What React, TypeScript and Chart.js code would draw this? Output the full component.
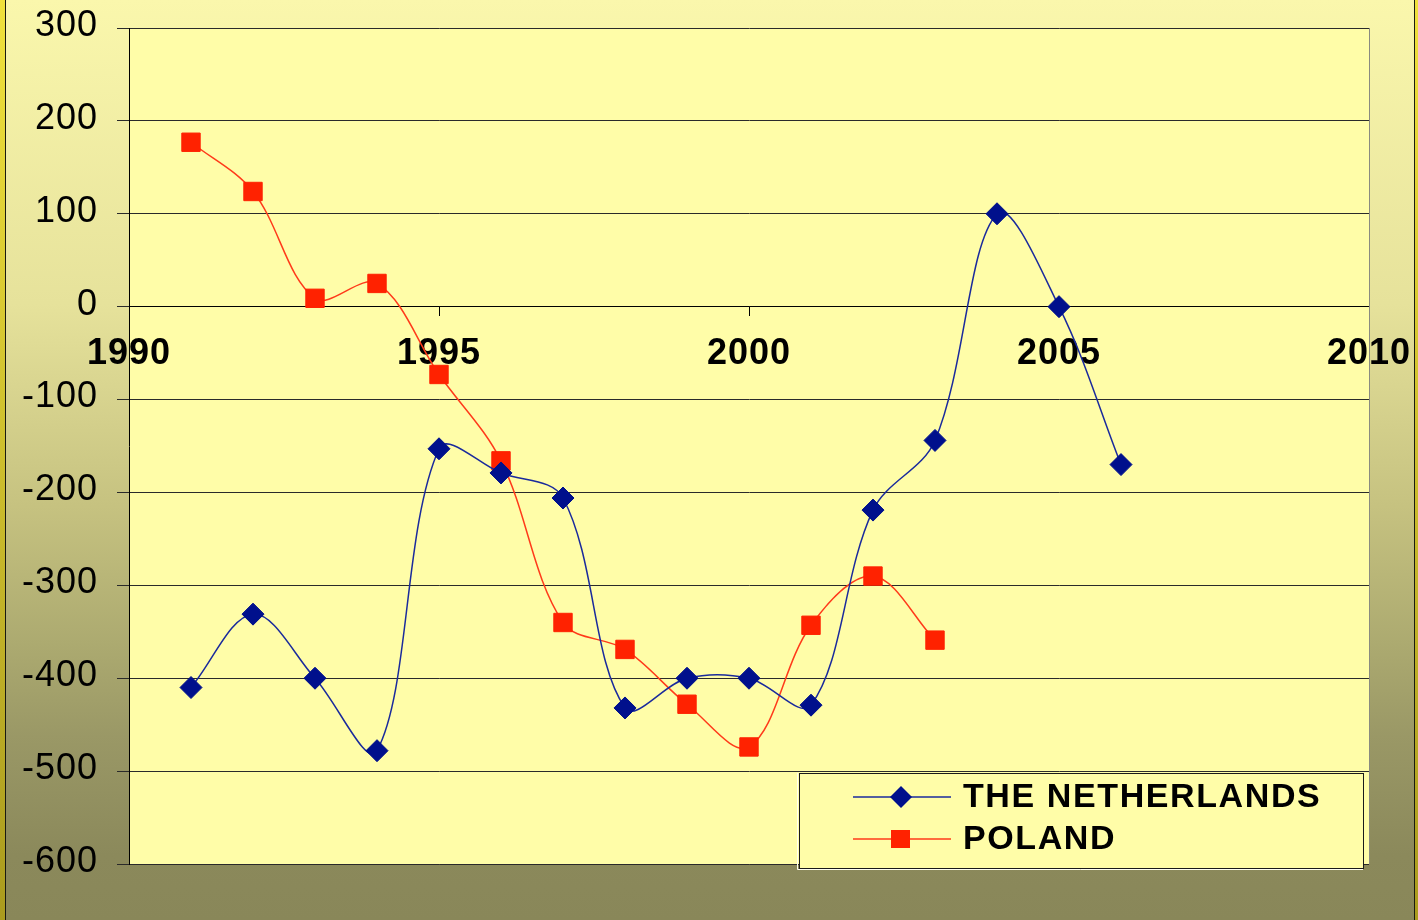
import React, { useEffect, useRef } from "react";
import { Chart, registerables } from "chart.js";

Chart.register(...registerables);

// ---- data ----
const netherlandsYears = [1991, 1992, 1993, 1994, 1995, 1996, 1997, 1998, 1999, 2000, 2001, 2002, 2003, 2004, 2005, 2006];
const netherlandsValues = [-410, -331, -400, -478, -153, -179, -206, -432, -400, -400, -429, -219, -144, 100, 0, -170];
const polandYears = [1991, 1992, 1993, 1994, 1995, 1996, 1997, 1998, 1999, 2000, 2001, 2002, 2003];
const polandValues = [177, 124, 9, 25, -73, -166, -340, -369, -428, -474, -343, -290, -359];
const seriesLabels = ["THE NETHERLANDS", "POLAND"];
const yMin = -600;
const yMax = 300;
const yStep = 100;
const xMin = 1990;
const xMax = 2010;
const xStep = 5;

const FONT = '"Liberation Sans", Arial, sans-serif';

const backgroundPlugin = {
  id: "bgPlugin",
  beforeDraw(chart: any) {
    const ctx = chart.ctx as CanvasRenderingContext2D;
    const { width, height, chartArea } = chart;
    ctx.save();
    const g = ctx.createLinearGradient(0, 0, 0, height);
    g.addColorStop(0, "rgb(250,247,172)");
    g.addColorStop(0.33, "rgb(230,226,155)");
    g.addColorStop(0.55, "rgb(198,194,128)");
    g.addColorStop(0.7, "rgb(172,170,112)");
    g.addColorStop(0.8, "rgb(154,152,102)");
    g.addColorStop(0.93, "rgb(139,137,91)");
    g.addColorStop(1, "rgb(137,135,89)");
    ctx.fillStyle = g;
    ctx.fillRect(0, 0, width, height);
    // edge bars
    const eg = ctx.createLinearGradient(0, 0, 0, height);
    eg.addColorStop(0, "rgb(240,225,60)");
    eg.addColorStop(1, "rgb(170,155,30)");
    ctx.fillStyle = eg;
    ctx.fillRect(0, 0, 5, height);
    ctx.fillRect(width - 3, 0, 3, height);
    ctx.fillStyle = "#1a1a10";
    ctx.fillRect(5, 0, 1, height);
    ctx.fillRect(width - 4, 0, 1, height);
    // plot area
    ctx.fillStyle = "#FFFDA8";
    ctx.fillRect(chartArea.left, chartArea.top, chartArea.right - chartArea.left, chartArea.bottom - chartArea.top);
    ctx.restore();
    (ctx as any).letterSpacing = "1px";
  },
  beforeDatasetsDraw(chart: any) {
    const ctx = chart.ctx as CanvasRenderingContext2D;
    (ctx as any).letterSpacing = "0px";
    const { chartArea } = chart;
    ctx.save();
    ctx.strokeStyle = "#8a8a80";
    ctx.lineWidth = 1;
    ctx.beginPath();
    ctx.moveTo(Math.round(chartArea.right) + 0.5, chartArea.top);
    ctx.lineTo(Math.round(chartArea.right) + 0.5, chartArea.bottom);
    ctx.stroke();
    ctx.restore();
  },
  afterDraw(chart: any) {
    const ctx = chart.ctx as CanvasRenderingContext2D;
    (ctx as any).letterSpacing = "0px";
    const bx = 799, by = 773, bw = 564, bh = 95;
    ctx.save();
    ctx.fillStyle = "#FFFDA8";
    ctx.fillRect(bx, by, bw, bh);
    ctx.strokeStyle = "#fffff0";
    ctx.lineWidth = 1;
    ctx.beginPath();
    ctx.moveTo(bx - 1.5, by);
    ctx.lineTo(bx - 1.5, by + bh + 1.5);
    ctx.lineTo(bx + bw, by + bh + 1.5);
    ctx.stroke();
    ctx.strokeStyle = "#1a1a1a";
    ctx.strokeRect(bx + 0.5, by + 0.5, bw, bh);
    const rows = [797, 839];
    chart.data.datasets.forEach((ds: any, i: number) => {
      const y = rows[i];
      ctx.strokeStyle = ds.borderColor;
      ctx.lineWidth = 1.5;
      ctx.beginPath();
      ctx.moveTo(853, y);
      ctx.lineTo(951, y);
      ctx.stroke();
      ctx.fillStyle = ds.pointBackgroundColor;
      if (ds.pointStyle === "rectRot") {
        ctx.beginPath();
        ctx.moveTo(901, y - 11);
        ctx.lineTo(912, y);
        ctx.lineTo(901, y + 11);
        ctx.lineTo(890, y);
        ctx.closePath();
        ctx.fill();
      } else {
        ctx.fillRect(891, y - 9, 19, 18);
      }
      ctx.fillStyle = "#000";
      ctx.font = `bold 34px ${FONT}`;
      ctx.textBaseline = "middle";
      ctx.textAlign = "left";
      (ctx as any).letterSpacing = "1.6px";
      ctx.fillText(ds.label, 963, y + 1);
      (ctx as any).letterSpacing = "0px";
    });
    ctx.restore();
  },
};

export default function App() {
  const canvasRef = useRef<HTMLCanvasElement | null>(null);

  useEffect(() => {
    document.body.style.margin = "0";
    const canvas = canvasRef.current;
    if (!canvas) return;
    Chart.defaults.font.family = FONT;
    const chart = new Chart(canvas, {
      type: "line",
      data: {
        datasets: [
          {
            label: seriesLabels[0],
            data: netherlandsYears.map((x, i) => ({ x, y: netherlandsValues[i] })),
            borderColor: "#1A2A9C",
            borderWidth: 1.5,
            pointStyle: "rectRot",
            pointRadius: 11,
            pointBackgroundColor: "#00108C",
            pointBorderColor: "#00108C",
            pointBorderWidth: 1,
            tension: 0.35,
            fill: false,
          },
          {
            label: seriesLabels[1],
            data: polandYears.map((x, i) => ({ x, y: polandValues[i] })),
            borderColor: "#FF3A1A",
            borderWidth: 1.5,
            pointStyle: "rect",
            pointRadius: 13,
            pointBackgroundColor: "#FF2200",
            pointBorderColor: "#FF2200",
            pointBorderWidth: 1,
            tension: 0.35,
            fill: false,
          },
        ],
      },
      options: {
        animation: false,
        responsive: false,
        devicePixelRatio: 1,
        layout: { padding: { left: 0, top: 28, right: 49, bottom: 56 } },
        plugins: {
          legend: { display: false },
          tooltip: { enabled: false },
        },
        scales: {
          x: {
            type: "linear",
            min: xMin,
            max: xMax,
            position: { y: 0 } as any,
            grid: { drawOnChartArea: false, drawTicks: true, tickLength: 9, color: "#000" },
            border: { display: true, color: "#000", width: 1 },
            ticks: {
              stepSize: xStep,
              padding: 17,
              color: "#000",
              font: { size: 36, weight: "bold", family: FONT },
              callback: (v: any) => String(v),
              maxRotation: 0,
              autoSkip: false,
            },
            afterFit: (scale: any) => {
              scale.paddingLeft = 0;
              scale.paddingRight = 0;
              scale.paddingTop = 0;
              scale.paddingBottom = 0;
            },
          },
          y: {
            type: "linear",
            min: yMin,
            max: yMax,
            position: "left",
            grid: { color: "#2a2a2a", lineWidth: 1, tickLength: 12 },
            border: { display: true, color: "#000", width: 1 },
            ticks: {
              stepSize: yStep,
              padding: 19,
              labelOffset: -2,
              color: "#000",
              font: { size: 36, family: FONT },
              callback: (v: any) => String(v),
            },
            afterFit: (scale: any) => {
              scale.width = 129;
              scale.paddingTop = 0;
              scale.paddingBottom = 0;
              scale.paddingLeft = 0;
              scale.paddingRight = 0;
            },
          },
        },
      },
      plugins: [backgroundPlugin],
    } as any);
    return () => chart.destroy();
  }, []);

  return (
    <div style={{ position: "absolute", left: 0, top: 0, width: 1418, height: 920 }}>
      <canvas ref={canvasRef} width={1418} height={920} style={{ display: "block" }} />
    </div>
  );
}
